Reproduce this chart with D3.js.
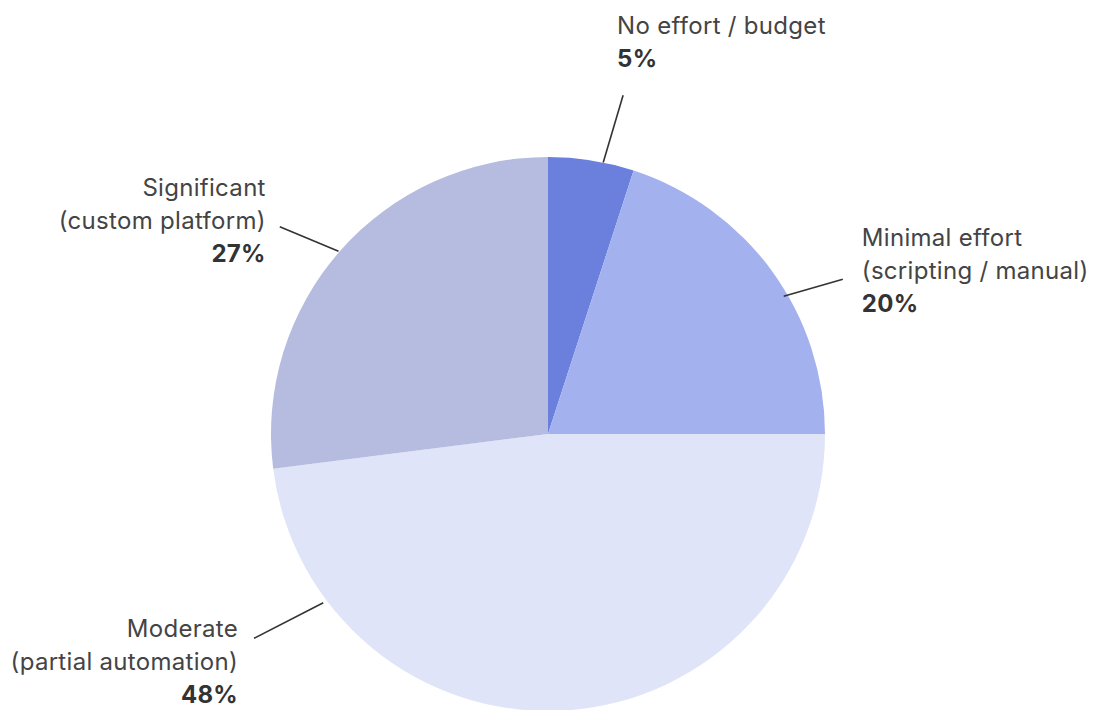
<!DOCTYPE html>
<html>
<head>
<meta charset="utf-8">
<script src="https://cdn.jsdelivr.net/npm/d3@7"></script>
<style>
  html, body { margin: 0; padding: 0; background: #ffffff; }
  svg text { font-family: Inter, "Noto Sans", sans-serif; }
</style>
</head>
<body>
<svg id="chart" width="1095" height="710"></svg>
<script>
// Effort spent on the topic, share of respondents
const categories = ["No effort / budget", "Minimal effort", "Moderate", "Significant"];
const subtitles  = ["", "(scripting / manual)", "(partial automation)", "(custom platform)"];
const values     = [5, 20, 48, 27];
const colors     = ["#6b80dd", "#a3b1ee", "#e0e4f8", "#b6bce0"];

const width = 1095, height = 710;
const cx = 548, cy = 434, radius = 277;
const deg = Math.PI / 180;

const svg = d3.select("#chart");
const g = svg.append("g").attr("transform", `translate(${cx},${cy})`);

const pie = d3.pie().sort(null).value(d => d.value);
const arc = d3.arc().innerRadius(0).outerRadius(radius);

const data = categories.map((c, i) => ({ name: c, sub: subtitles[i], value: values[i], color: colors[i] }));
const arcs = pie(data);

g.selectAll("path.slice")
  .data(arcs)
  .join("path")
  .attr("class", "slice")
  .attr("d", arc)
  .attr("fill", d => d.data.color);

// Leader line placement: angle/radius of both ends, and text offset from the outer end
const leaders = [
  { a0: 11.5, r0: 277, a1: 12.5, r1: 347, dx: -6,  dy: -61, anchor: "start" },
  { a0: 59.7, r0: 273, a1: 62.3, r1: 333, dx: 19,  dy: -33, anchor: "start" },
  { a0: 233.1, r0: 281, a1: 235.2, r1: 358, dx: -16, dy: -1,  anchor: "end" },
  { a0: 311.1, r0: 278, a1: 307.7, r1: 339, dx: -14, dy: -31, anchor: "end" }
];
const polar = (a, r) => [r * Math.sin(a * deg), -r * Math.cos(a * deg)];

const lineH = 33;
arcs.forEach((d, i) => {
  const L = leaders[i];
  const p0 = polar(L.a0, L.r0), p1 = polar(L.a1, L.r1);
  g.append("line")
    .attr("x1", p0[0]).attr("y1", p0[1])
    .attr("x2", p1[0]).attr("y2", p1[1])
    .attr("stroke", "#333").attr("stroke-width", 1.6);

  const lines = [d.data.name];
  if (d.data.sub) lines.push(d.data.sub);
  const t = g.append("text")
    .attr("x", p1[0] + L.dx).attr("y", p1[1] + L.dy)
    .attr("text-anchor", L.anchor)
    .attr("font-size", 24)
    .attr("letter-spacing", 0.3);
  lines.forEach((s, k) => {
    t.append("tspan")
      .attr("x", p1[0] + L.dx).attr("dy", k === 0 ? 0 : lineH)
      .attr("fill", "#444").text(s);
  });
  t.append("tspan")
    .attr("x", p1[0] + L.dx).attr("dy", lineH)
    .attr("fill", "#333").attr("font-weight", 700)
    .text(d3.format("d")(d.data.value) + "%");
});
</script>
</body>
</html>
